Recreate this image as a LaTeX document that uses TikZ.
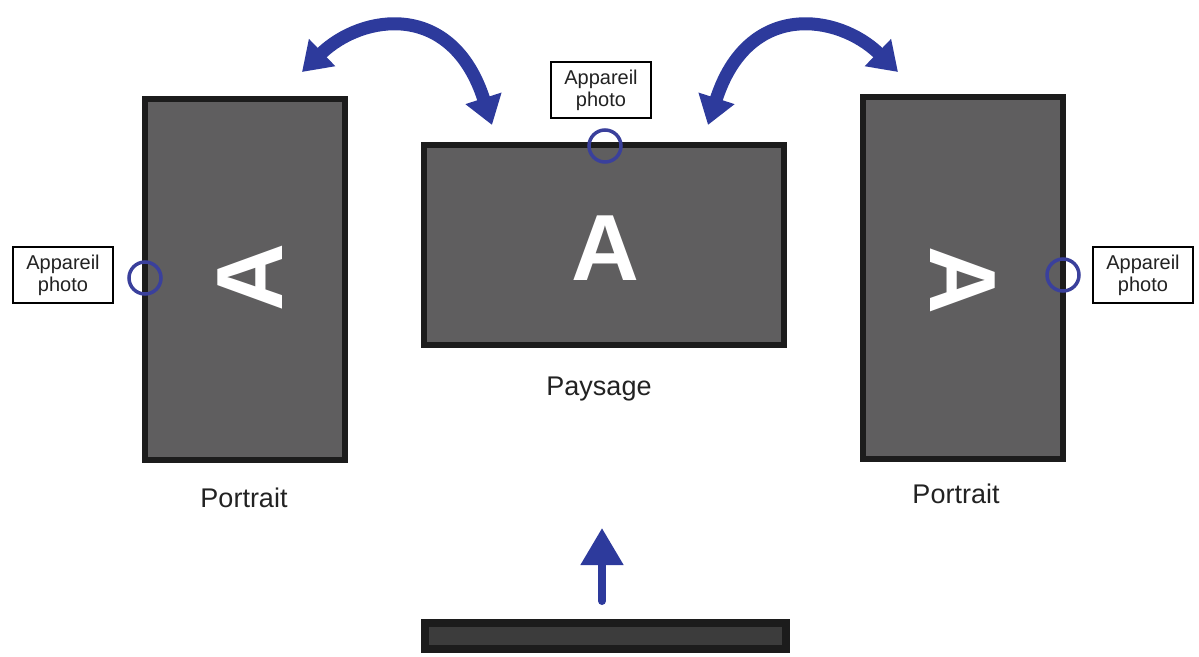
\documentclass[tikz,border=0pt]{standalone}
\usepackage{fontspec}
\setmainfont{Liberation Sans}
\usetikzlibrary{arrows.meta}
\definecolor{scrfill}{HTML}{5F5E5F}
\definecolor{scredge}{HTML}{1C1C1C}
\definecolor{standfill}{HTML}{3C3C3C}
\definecolor{arblue}{HTML}{2D3A9C}
\definecolor{camblue}{HTML}{3A409C}
\definecolor{txt}{HTML}{222222}
\tikzset{
  screen/.style={draw=scredge, fill=scrfill, line width=6pt, inner sep=0pt},
  letter/.style={text=white, font=\fontsize{94}{94}\selectfont\bfseries, inner sep=0pt},
  caption/.style={text=txt, font=\fontsize{27}{30}\selectfont, inner sep=0pt, anchor=base},
  camlabel/.style={draw=black, line width=2pt, fill=white, text=txt, minimum width=100pt, minimum height=56pt, inner sep=0pt, align=center, font=\fontsize{20}{22}\selectfont},
  camera/.style={circle, draw=camblue, line width=3.5pt, minimum size=32pt, inner sep=0pt},
  turn/.style={draw=arblue, line width=13pt, {Triangle[width=36pt,length=28pt]}-{Triangle[width=36pt,length=28pt]}},
  push/.style={draw=arblue, line width=8pt, line cap=round, -{Triangle[width=41pt,length=37pt]}}
}
\begin{document}
\begin{tikzpicture}[x=1pt,y=-1pt]
\useasboundingbox (0,0) rectangle (1199,656);
% screens
\node[screen, minimum width=200pt, minimum height=361pt] (pl) at (245,279.5) {};
\node[screen, minimum width=360pt, minimum height=200pt] (ls) at (604,245) {};
\node[screen, minimum width=200pt, minimum height=362pt] (pr) at (963,278) {};
\node[draw=scredge, fill=standfill, line width=8pt, minimum width=361pt, minimum height=26pt, inner sep=0pt] (stand) at (605.5,636) {};
% letters
\node[letter, rotate=90, anchor=base] (al) at (282,278) {A};
\node[letter, anchor=base] (ac) at (605,280) {A};
\node[letter, rotate=-90, anchor=base] (ar) at (930,280) {A};
% captions
\node[caption] (cpl) at (244,507) {Portrait};
\node[caption] (cls) at (599,395) {Paysage};
\node[caption] (cpr) at (956,503) {Portrait};
% cameras
\node[camera] (cl) at (145,278) {};
\node[camera] (cc) at (605,146) {};
\node[camera] (cr) at (1063,275) {};
\node[camlabel] (ll) at (63,275) {Appareil\\photo};
\node[camlabel] (lc) at (601,90) {Appareil\\photo};
\node[camlabel] (lr) at (1143,275) {Appareil\\photo};
% rotation arrows
\coordinate (la) at (302,72);
\coordinate (lb) at (492,125);
\coordinate (ra) at (708,125);
\coordinate (rb) at (898,72);
\draw[turn] (la) .. controls (362,14) and (452,0) .. (lb);
\draw[turn] (ra) .. controls (748,0) and (838,14) .. (rb);
% push arrow
\coordinate (pa) at (602,601);
\coordinate (pb) at (602,528);
\draw[push] (pa) -- (pb);
\end{tikzpicture}
\end{document}
